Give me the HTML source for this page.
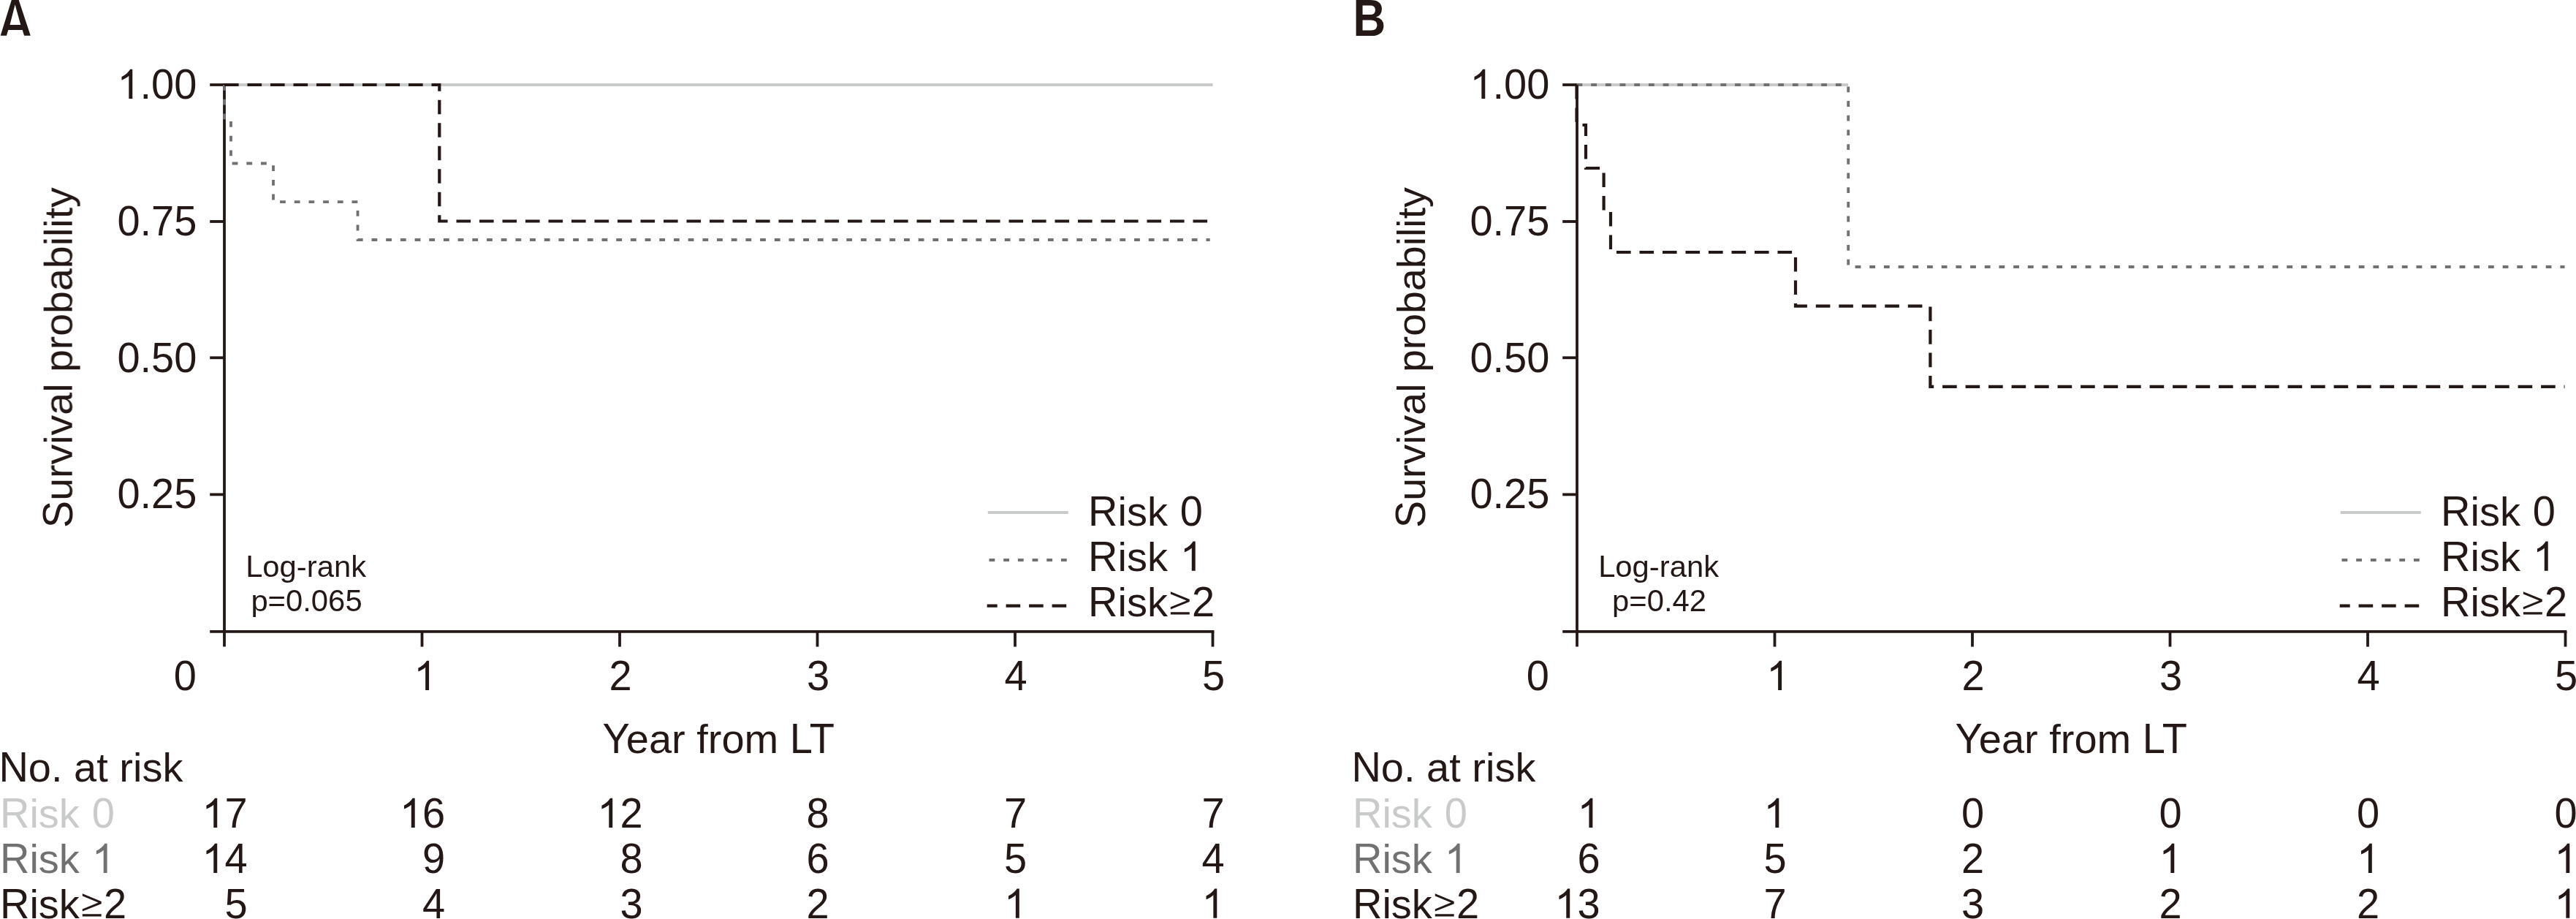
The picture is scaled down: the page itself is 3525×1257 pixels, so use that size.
<!DOCTYPE html>
<html><head><meta charset="utf-8"><title>Kaplan-Meier</title>
<style>html,body{margin:0;padding:0;background:#fff;}svg{display:block;}
text{font-family:"Liberation Sans",sans-serif;} .g{opacity:0.999}</style></head>
<body><svg width="3525" height="1257" viewBox="0 0 3525 1257" fill="#231815">
<rect width="3525" height="1257" fill="#fff"/>
<g class="g"><line x1="307.0" y1="114.1" x2="307.0" y2="884.6" stroke="#231815" stroke-width="3.8"/>
<line x1="287.2" y1="863.8" x2="1661.4" y2="863.8" stroke="#231815" stroke-width="3.8"/>
<line x1="287.2" y1="116.0" x2="307.0" y2="116.0" stroke="#231815" stroke-width="3.8"/>
<line x1="287.2" y1="303.0" x2="307.0" y2="303.0" stroke="#231815" stroke-width="3.8"/>
<line x1="287.2" y1="489.3" x2="307.0" y2="489.3" stroke="#231815" stroke-width="3.8"/>
<line x1="287.2" y1="676.4" x2="307.0" y2="676.4" stroke="#231815" stroke-width="3.8"/>
<line x1="577.5" y1="863.8" x2="577.5" y2="884.6" stroke="#231815" stroke-width="3.8"/>
<line x1="848.0" y1="863.8" x2="848.0" y2="884.6" stroke="#231815" stroke-width="3.8"/>
<line x1="1118.5" y1="863.8" x2="1118.5" y2="884.6" stroke="#231815" stroke-width="3.8"/>
<line x1="1389.0" y1="863.8" x2="1389.0" y2="884.6" stroke="#231815" stroke-width="3.8"/>
<line x1="1659.5" y1="863.8" x2="1659.5" y2="884.6" stroke="#231815" stroke-width="3.8"/>
<path transform="translate(160.40,135.10) scale(0.027344,-0.027344)" d="M763 0 L583 0 L583 1147 Q518 1085 415 1024 Q312 964 223 931 L223 1105 Q374 1176 487 1277 Q600 1378 647 1472 L763 1472 Z"/>
<text transform="translate(269.40,135.10) scale(1,1.035)" x="-62.30 -31.16" font-size="56">00</text>
<text transform="translate(269.40,135.10) scale(1,0.98)" x="-77.86" font-size="56">.</text>
<text transform="translate(269.40,321.90) scale(1,1.035)" x="-109.00 -62.30 -31.16" font-size="56">075</text>
<text transform="translate(269.40,321.90) scale(1,0.98)" x="-77.86" font-size="56">.</text>
<text transform="translate(269.40,508.50) scale(1,1.035)" x="-109.00 -62.30 -31.16" font-size="56">050</text>
<text transform="translate(269.40,508.50) scale(1,0.98)" x="-77.86" font-size="56">.</text>
<text transform="translate(269.40,695.40) scale(1,1.035)" x="-109.00 -62.30 -31.16" font-size="56">025</text>
<text transform="translate(269.40,695.40) scale(1,0.98)" x="-77.86" font-size="56">.</text>
<text transform="translate(268.80,944.00) scale(1,1.035)" x="-31.16" font-size="56">0</text>
<path transform="translate(566.22,944.00) scale(0.027344,-0.027344)" d="M763 0 L583 0 L583 1147 Q518 1085 415 1024 Q312 964 223 931 L223 1105 Q374 1176 487 1277 Q600 1378 647 1472 L763 1472 Z"/>
<text transform="translate(849.00,944.00) scale(1,1.035)" x="-15.58" font-size="56">2</text>
<text transform="translate(1119.50,944.00) scale(1,1.035)" x="-15.58" font-size="56">3</text>
<text transform="translate(1390.00,944.00) scale(1,1.035)" x="-15.58" font-size="56">4</text>
<text transform="translate(1660.50,944.00) scale(1,1.035)" x="-15.58" font-size="56">5</text>
<text transform="translate(983.30,1029.90) scale(1,1.035)" x="-158.73 97.53 124.52" font-size="56">YLT</text>
<text transform="translate(983.30,1029.90) scale(1,0.98)" x="-126.53 -95.39 -64.23 -30.03 -14.47 4.17 35.31" font-size="56">earfrom</text>
<text transform="translate(98.60,489.00) rotate(-90) scale(1,1.035)" x="-232.90" font-size="55.5">S</text>
<text transform="translate(98.60,489.00) rotate(-90) scale(1,0.98)" x="-195.88 -165.02 -146.54 -118.79 -106.46 -78.71 -47.84 -20.09 10.77 29.26 60.12 90.99 121.85 152.73 165.05 177.38 189.71 205.13" font-size="55.5">urvivalprobability</text>
<text transform="translate(418.60,789.30) scale(1,1.035)" x="-82.48" font-size="41.8">L</text>
<text transform="translate(418.60,789.30) scale(1,0.98)" x="-59.25 -36.00 -12.75 1.16 15.08 38.33 61.58" font-size="41.8">og-rank</text>
<text transform="translate(419.50,836.10) scale(1,1.035)" x="-28.48 6.38 29.62 52.88" font-size="41.8">0065</text>
<text transform="translate(419.50,836.10) scale(1,0.98)" x="-76.12 -52.89 -5.23" font-size="41.8">p=.</text>
<line x1="1351.8" y1="700.9" x2="1461.7" y2="700.9" stroke="#c9caca" stroke-width="4"/>
<path d="M1353.5,766 H1461" fill="none" stroke="#727171" stroke-width="3.8" stroke-linejoin="miter" stroke-dasharray="7.8 11.89"/>
<path d="M1350.7,828.7 H1460.2" fill="none" stroke="#231815" stroke-width="4.2" stroke-linejoin="miter" stroke-dasharray="19.6 11.9" stroke-dashoffset="5.6"/>
<text transform="translate(1489.10,718.90) scale(1,1.035)" x="0.00 125.74" font-size="56">R0</text>
<text transform="translate(1489.10,718.90) scale(1,0.98)" x="40.44 52.88 80.88" font-size="56">isk</text>
<path transform="translate(1614.84,780.80) scale(0.027344,-0.027344)" d="M763 0 L583 0 L583 1147 Q518 1085 415 1024 Q312 964 223 931 L223 1105 Q374 1176 487 1277 Q600 1378 647 1472 L763 1472 Z"/>
<text transform="translate(1489.10,780.80) scale(1,1.035)" x="0.00" font-size="56">R</text>
<text transform="translate(1489.10,780.80) scale(1,0.98)" x="40.44 52.88 80.88" font-size="56">isk</text>
<path transform="translate(1597.97,842.60) scale(1.0000)" d="M3.9,-33.4 L29.8,-22.8 L29.8,-19.5 L3.9,-9.1 L3.9,-12.3 L25.7,-21.2 L3.9,-30.2 Z M3.9,-5.4 H29.8 V-2.1 H3.9 Z"/>
<text transform="translate(1489.10,842.60) scale(1,1.035)" x="0.00 142.01" font-size="56">R2</text>
<text transform="translate(1489.10,842.60) scale(1,0.98)" x="40.44 52.88 80.88" font-size="56">isk</text>
<line x1="307.0" y1="116.0" x2="1659.5" y2="116.0" stroke="#c9caca" stroke-width="4"/>
<path d="M307,116 V165 H316 V223.5 H374 V276.2 H489.5 V328 H1655.7" fill="none" stroke="#727171" stroke-width="3.8" stroke-linejoin="miter" stroke-dasharray="7.8 11.89"/>
<path d="M307,116 H601.3 V302.5 H1659.5" fill="none" stroke="#231815" stroke-width="4.2" stroke-linejoin="miter" stroke-dasharray="19.6 11.9"/>
<text transform="translate(-1.60,1068.60) scale(1,1.035)" x="0.00" font-size="56">N</text>
<text transform="translate(-1.60,1068.60) scale(1,0.98)" x="40.44 71.58 102.70 133.84 164.95 183.61 196.05 224.05" font-size="56">o.atrisk</text>
<text transform="translate(0.00,1132.00) scale(1,1.035)" x="0.00 125.74" font-size="56" fill="#c9caca">R0</text>
<text transform="translate(0.00,1132.00) scale(1,0.98)" x="40.44 52.88 80.88" font-size="56" fill="#c9caca">isk</text>
<path transform="translate(125.74,1194.00) scale(0.027344,-0.027344)" fill="#727171" d="M763 0 L583 0 L583 1147 Q518 1085 415 1024 Q312 964 223 931 L223 1105 Q374 1176 487 1277 Q600 1378 647 1472 L763 1472 Z"/>
<text transform="translate(0.00,1194.00) scale(1,1.035)" x="0.00" font-size="56" fill="#727171">R</text>
<text transform="translate(0.00,1194.00) scale(1,0.98)" x="40.44 52.88 80.88" font-size="56" fill="#727171">isk</text>
<path transform="translate(108.88,1255.70) scale(1.0000)" d="M3.9,-33.4 L29.8,-22.8 L29.8,-19.5 L3.9,-9.1 L3.9,-12.3 L25.7,-21.2 L3.9,-30.2 Z M3.9,-5.4 H29.8 V-2.1 H3.9 Z"/>
<text transform="translate(0.00,1255.70) scale(1,1.035)" x="0.00 142.01" font-size="56">R2</text>
<text transform="translate(0.00,1255.70) scale(1,0.98)" x="40.44 52.88 80.88" font-size="56">isk</text>
<path transform="translate(276.35,1132.00) scale(0.027344,-0.027344)" d="M763 0 L583 0 L583 1147 Q518 1085 415 1024 Q312 964 223 931 L223 1105 Q374 1176 487 1277 Q600 1378 647 1472 L763 1472 Z"/>
<text transform="translate(338.64,1132.00) scale(1,1.035)" x="-31.16" font-size="56">7</text>
<path transform="translate(276.35,1194.00) scale(0.027344,-0.027344)" d="M763 0 L583 0 L583 1147 Q518 1085 415 1024 Q312 964 223 931 L223 1105 Q374 1176 487 1277 Q600 1378 647 1472 L763 1472 Z"/>
<text transform="translate(338.64,1194.00) scale(1,1.035)" x="-31.16" font-size="56">4</text>
<text transform="translate(338.64,1255.70) scale(1,1.035)" x="-31.16" font-size="56">5</text>
<path transform="translate(546.85,1132.00) scale(0.027344,-0.027344)" d="M763 0 L583 0 L583 1147 Q518 1085 415 1024 Q312 964 223 931 L223 1105 Q374 1176 487 1277 Q600 1378 647 1472 L763 1472 Z"/>
<text transform="translate(609.14,1132.00) scale(1,1.035)" x="-31.16" font-size="56">6</text>
<text transform="translate(609.14,1194.00) scale(1,1.035)" x="-31.16" font-size="56">9</text>
<text transform="translate(609.14,1255.70) scale(1,1.035)" x="-31.16" font-size="56">4</text>
<path transform="translate(817.35,1132.00) scale(0.027344,-0.027344)" d="M763 0 L583 0 L583 1147 Q518 1085 415 1024 Q312 964 223 931 L223 1105 Q374 1176 487 1277 Q600 1378 647 1472 L763 1472 Z"/>
<text transform="translate(879.64,1132.00) scale(1,1.035)" x="-31.16" font-size="56">2</text>
<text transform="translate(879.64,1194.00) scale(1,1.035)" x="-31.16" font-size="56">8</text>
<text transform="translate(879.64,1255.70) scale(1,1.035)" x="-31.16" font-size="56">3</text>
<text transform="translate(1134.57,1132.00) scale(1,1.035)" x="-31.16" font-size="56">8</text>
<text transform="translate(1134.57,1194.00) scale(1,1.035)" x="-31.16" font-size="56">6</text>
<text transform="translate(1134.57,1255.70) scale(1,1.035)" x="-31.16" font-size="56">2</text>
<text transform="translate(1405.07,1132.00) scale(1,1.035)" x="-31.16" font-size="56">7</text>
<text transform="translate(1405.07,1194.00) scale(1,1.035)" x="-31.16" font-size="56">5</text>
<path transform="translate(1373.92,1255.70) scale(0.027344,-0.027344)" d="M763 0 L583 0 L583 1147 Q518 1085 415 1024 Q312 964 223 931 L223 1105 Q374 1176 487 1277 Q600 1378 647 1472 L763 1472 Z"/>
<text transform="translate(1675.57,1132.00) scale(1,1.035)" x="-31.16" font-size="56">7</text>
<text transform="translate(1675.57,1194.00) scale(1,1.035)" x="-31.16" font-size="56">4</text>
<path transform="translate(1644.42,1255.70) scale(0.027344,-0.027344)" d="M763 0 L583 0 L583 1147 Q518 1085 415 1024 Q312 964 223 931 L223 1105 Q374 1176 487 1277 Q600 1378 647 1472 L763 1472 Z"/>
<path fill-rule="evenodd" d="M0.7,48.8 L16,-0.5 L25.5,-0.5 L41.8,48.8 L33.1,48.8 L30.7,40.9 L11.3,40.9 L8.9,48.8 Z M20.6,6.3 L13.5,33.9 L28.3,33.9 Z"/>
<line x1="2158.0" y1="114.1" x2="2158.0" y2="884.6" stroke="#231815" stroke-width="3.8"/>
<line x1="2138.2" y1="863.8" x2="3512.4" y2="863.8" stroke="#231815" stroke-width="3.8"/>
<line x1="2138.2" y1="116.0" x2="2158.0" y2="116.0" stroke="#231815" stroke-width="3.8"/>
<line x1="2138.2" y1="303.0" x2="2158.0" y2="303.0" stroke="#231815" stroke-width="3.8"/>
<line x1="2138.2" y1="489.3" x2="2158.0" y2="489.3" stroke="#231815" stroke-width="3.8"/>
<line x1="2138.2" y1="676.4" x2="2158.0" y2="676.4" stroke="#231815" stroke-width="3.8"/>
<line x1="2428.5" y1="863.8" x2="2428.5" y2="884.6" stroke="#231815" stroke-width="3.8"/>
<line x1="2699.0" y1="863.8" x2="2699.0" y2="884.6" stroke="#231815" stroke-width="3.8"/>
<line x1="2969.5" y1="863.8" x2="2969.5" y2="884.6" stroke="#231815" stroke-width="3.8"/>
<line x1="3240.0" y1="863.8" x2="3240.0" y2="884.6" stroke="#231815" stroke-width="3.8"/>
<line x1="3510.5" y1="863.8" x2="3510.5" y2="884.6" stroke="#231815" stroke-width="3.8"/>
<path transform="translate(2011.40,135.10) scale(0.027344,-0.027344)" d="M763 0 L583 0 L583 1147 Q518 1085 415 1024 Q312 964 223 931 L223 1105 Q374 1176 487 1277 Q600 1378 647 1472 L763 1472 Z"/>
<text transform="translate(2120.40,135.10) scale(1,1.035)" x="-62.30 -31.16" font-size="56">00</text>
<text transform="translate(2120.40,135.10) scale(1,0.98)" x="-77.86" font-size="56">.</text>
<text transform="translate(2120.40,321.90) scale(1,1.035)" x="-109.00 -62.30 -31.16" font-size="56">075</text>
<text transform="translate(2120.40,321.90) scale(1,0.98)" x="-77.86" font-size="56">.</text>
<text transform="translate(2120.40,508.50) scale(1,1.035)" x="-109.00 -62.30 -31.16" font-size="56">050</text>
<text transform="translate(2120.40,508.50) scale(1,0.98)" x="-77.86" font-size="56">.</text>
<text transform="translate(2120.40,695.40) scale(1,1.035)" x="-109.00 -62.30 -31.16" font-size="56">025</text>
<text transform="translate(2120.40,695.40) scale(1,0.98)" x="-77.86" font-size="56">.</text>
<text transform="translate(2119.80,944.00) scale(1,1.035)" x="-31.16" font-size="56">0</text>
<path transform="translate(2417.22,944.00) scale(0.027344,-0.027344)" d="M763 0 L583 0 L583 1147 Q518 1085 415 1024 Q312 964 223 931 L223 1105 Q374 1176 487 1277 Q600 1378 647 1472 L763 1472 Z"/>
<text transform="translate(2700.00,944.00) scale(1,1.035)" x="-15.58" font-size="56">2</text>
<text transform="translate(2970.50,944.00) scale(1,1.035)" x="-15.58" font-size="56">3</text>
<text transform="translate(3241.00,944.00) scale(1,1.035)" x="-15.58" font-size="56">4</text>
<text transform="translate(3511.50,944.00) scale(1,1.035)" x="-15.58" font-size="56">5</text>
<text transform="translate(2834.30,1029.90) scale(1,1.035)" x="-158.73 97.53 124.52" font-size="56">YLT</text>
<text transform="translate(2834.30,1029.90) scale(1,0.98)" x="-126.53 -95.39 -64.23 -30.03 -14.47 4.17 35.31" font-size="56">earfrom</text>
<text transform="translate(1949.60,489.00) rotate(-90) scale(1,1.035)" x="-232.90" font-size="55.5">S</text>
<text transform="translate(1949.60,489.00) rotate(-90) scale(1,0.98)" x="-195.88 -165.02 -146.54 -118.79 -106.46 -78.71 -47.84 -20.09 10.77 29.26 60.12 90.99 121.85 152.73 165.05 177.38 189.71 205.13" font-size="55.5">urvivalprobability</text>
<text transform="translate(2269.60,789.30) scale(1,1.035)" x="-82.48" font-size="41.8">L</text>
<text transform="translate(2269.60,789.30) scale(1,0.98)" x="-59.25 -36.00 -12.75 1.16 15.08 38.33 61.58" font-size="41.8">og-rank</text>
<text transform="translate(2270.50,836.10) scale(1,1.035)" x="-16.87 17.99 41.24" font-size="41.8">042</text>
<text transform="translate(2270.50,836.10) scale(1,0.98)" x="-64.51 -41.27 6.38" font-size="41.8">p=.</text>
<line x1="3202.8" y1="700.9" x2="3312.7" y2="700.9" stroke="#c9caca" stroke-width="4"/>
<path d="M3204.5,766 H3312" fill="none" stroke="#727171" stroke-width="3.8" stroke-linejoin="miter" stroke-dasharray="7.8 11.89"/>
<path d="M3201.7,828.7 H3311.2" fill="none" stroke="#231815" stroke-width="4.2" stroke-linejoin="miter" stroke-dasharray="19.6 11.9" stroke-dashoffset="5.6"/>
<text transform="translate(3340.10,718.90) scale(1,1.035)" x="0.00 125.74" font-size="56">R0</text>
<text transform="translate(3340.10,718.90) scale(1,0.98)" x="40.44 52.88 80.88" font-size="56">isk</text>
<path transform="translate(3465.84,780.80) scale(0.027344,-0.027344)" d="M763 0 L583 0 L583 1147 Q518 1085 415 1024 Q312 964 223 931 L223 1105 Q374 1176 487 1277 Q600 1378 647 1472 L763 1472 Z"/>
<text transform="translate(3340.10,780.80) scale(1,1.035)" x="0.00" font-size="56">R</text>
<text transform="translate(3340.10,780.80) scale(1,0.98)" x="40.44 52.88 80.88" font-size="56">isk</text>
<path transform="translate(3448.97,842.60) scale(1.0000)" d="M3.9,-33.4 L29.8,-22.8 L29.8,-19.5 L3.9,-9.1 L3.9,-12.3 L25.7,-21.2 L3.9,-30.2 Z M3.9,-5.4 H29.8 V-2.1 H3.9 Z"/>
<text transform="translate(3340.10,842.60) scale(1,1.035)" x="0.00 142.01" font-size="56">R2</text>
<text transform="translate(3340.10,842.60) scale(1,0.98)" x="40.44 52.88 80.88" font-size="56">isk</text>
<line x1="2158.0" y1="116.0" x2="2529.0" y2="116.0" stroke="#c9caca" stroke-width="4"/>
<path d="M2157.5,116 H2529.2 V365 H3509.5" fill="none" stroke="#727171" stroke-width="3.8" stroke-linejoin="miter" stroke-dasharray="7.8 11.89"/>
<path d="M2157.5,116 V171 H2170 V230 H2194.6 V288.5 H2204 V345 H2457 V418.7 H2641.4 V528.9 H3509.5" fill="none" stroke="#231815" stroke-width="4.2" stroke-linejoin="miter" stroke-dasharray="19.6 11.9"/>
<text transform="translate(1849.40,1068.60) scale(1,1.035)" x="0.00" font-size="56">N</text>
<text transform="translate(1849.40,1068.60) scale(1,0.98)" x="40.44 71.58 102.70 133.84 164.95 183.61 196.05 224.05" font-size="56">o.atrisk</text>
<text transform="translate(1851.00,1132.00) scale(1,1.035)" x="0.00 125.74" font-size="56" fill="#c9caca">R0</text>
<text transform="translate(1851.00,1132.00) scale(1,0.98)" x="40.44 52.88 80.88" font-size="56" fill="#c9caca">isk</text>
<path transform="translate(1976.74,1194.00) scale(0.027344,-0.027344)" fill="#727171" d="M763 0 L583 0 L583 1147 Q518 1085 415 1024 Q312 964 223 931 L223 1105 Q374 1176 487 1277 Q600 1378 647 1472 L763 1472 Z"/>
<text transform="translate(1851.00,1194.00) scale(1,1.035)" x="0.00" font-size="56" fill="#727171">R</text>
<text transform="translate(1851.00,1194.00) scale(1,0.98)" x="40.44 52.88 80.88" font-size="56" fill="#727171">isk</text>
<path transform="translate(1959.88,1255.70) scale(1.0000)" d="M3.9,-33.4 L29.8,-22.8 L29.8,-19.5 L3.9,-9.1 L3.9,-12.3 L25.7,-21.2 L3.9,-30.2 Z M3.9,-5.4 H29.8 V-2.1 H3.9 Z"/>
<text transform="translate(1851.00,1255.70) scale(1,1.035)" x="0.00 142.01" font-size="56">R2</text>
<text transform="translate(1851.00,1255.70) scale(1,0.98)" x="40.44 52.88 80.88" font-size="56">isk</text>
<path transform="translate(2158.49,1132.00) scale(0.027344,-0.027344)" d="M763 0 L583 0 L583 1147 Q518 1085 415 1024 Q312 964 223 931 L223 1105 Q374 1176 487 1277 Q600 1378 647 1472 L763 1472 Z"/>
<text transform="translate(2189.64,1194.00) scale(1,1.035)" x="-31.16" font-size="56">6</text>
<path transform="translate(2127.35,1255.70) scale(0.027344,-0.027344)" d="M763 0 L583 0 L583 1147 Q518 1085 415 1024 Q312 964 223 931 L223 1105 Q374 1176 487 1277 Q600 1378 647 1472 L763 1472 Z"/>
<text transform="translate(2189.64,1255.70) scale(1,1.035)" x="-31.16" font-size="56">3</text>
<path transform="translate(2413.42,1132.00) scale(0.027344,-0.027344)" d="M763 0 L583 0 L583 1147 Q518 1085 415 1024 Q312 964 223 931 L223 1105 Q374 1176 487 1277 Q600 1378 647 1472 L763 1472 Z"/>
<text transform="translate(2444.57,1194.00) scale(1,1.035)" x="-31.16" font-size="56">5</text>
<text transform="translate(2444.57,1255.70) scale(1,1.035)" x="-31.16" font-size="56">7</text>
<text transform="translate(2715.07,1132.00) scale(1,1.035)" x="-31.16" font-size="56">0</text>
<text transform="translate(2715.07,1194.00) scale(1,1.035)" x="-31.16" font-size="56">2</text>
<text transform="translate(2715.07,1255.70) scale(1,1.035)" x="-31.16" font-size="56">3</text>
<text transform="translate(2985.57,1132.00) scale(1,1.035)" x="-31.16" font-size="56">0</text>
<path transform="translate(2954.42,1194.00) scale(0.027344,-0.027344)" d="M763 0 L583 0 L583 1147 Q518 1085 415 1024 Q312 964 223 931 L223 1105 Q374 1176 487 1277 Q600 1378 647 1472 L763 1472 Z"/>
<text transform="translate(2985.57,1255.70) scale(1,1.035)" x="-31.16" font-size="56">2</text>
<text transform="translate(3256.07,1132.00) scale(1,1.035)" x="-31.16" font-size="56">0</text>
<path transform="translate(3224.92,1194.00) scale(0.027344,-0.027344)" d="M763 0 L583 0 L583 1147 Q518 1085 415 1024 Q312 964 223 931 L223 1105 Q374 1176 487 1277 Q600 1378 647 1472 L763 1472 Z"/>
<text transform="translate(3256.07,1255.70) scale(1,1.035)" x="-31.16" font-size="56">2</text>
<text transform="translate(3526.57,1132.00) scale(1,1.035)" x="-31.16" font-size="56">0</text>
<path transform="translate(3495.42,1194.00) scale(0.027344,-0.027344)" d="M763 0 L583 0 L583 1147 Q518 1085 415 1024 Q312 964 223 931 L223 1105 Q374 1176 487 1277 Q600 1378 647 1472 L763 1472 Z"/>
<path transform="translate(3495.42,1255.70) scale(0.027344,-0.027344)" d="M763 0 L583 0 L583 1147 Q518 1085 415 1024 Q312 964 223 931 L223 1105 Q374 1176 487 1277 Q600 1378 647 1472 L763 1472 Z"/>
<text transform="translate(1851.50,49.00) scale(0.91,1.045)" font-size="68" font-weight="bold">B</text></g>
</svg></body></html>
